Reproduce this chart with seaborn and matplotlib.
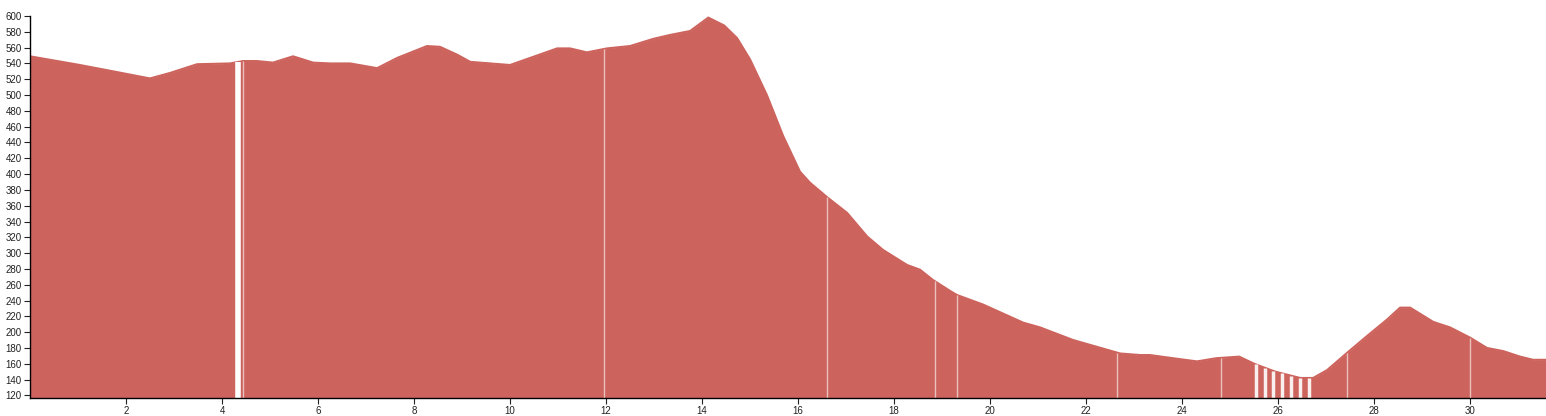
import numpy as np
import pandas as pd
import seaborn as sns
import matplotlib.pyplot as plt

# elevation profile (distance km, elevation m)
dist = [0.00, 1.04, 1.73, 2.50, 2.92, 3.48, 4.17, 4.44, 4.73, 5.06, 5.48, 5.90, 6.25,
        6.67, 7.23, 7.65, 8.27, 8.54, 8.90, 9.17, 10.00, 10.42, 10.98, 11.25, 11.60,
        12.02, 12.50, 12.98, 13.33, 13.75, 14.13, 14.46, 14.73, 15.00, 15.35, 15.69,
        16.04, 16.25, 16.60, 17.02, 17.44, 17.77, 18.27, 18.54, 18.81, 19.17, 19.31,
        19.85, 20.69, 21.04, 21.73, 22.71, 23.13, 23.33, 23.81, 24.31, 24.71, 25.19,
        25.50, 25.94, 26.46, 26.73, 27.02, 27.44, 27.85, 28.27, 28.54, 28.75, 29.23,
        29.58, 30.00, 30.35, 30.69, 31.04, 31.31, 31.58]
elev = [549, 538, 530, 521, 528, 539, 540, 543, 543, 541, 549, 541, 540,
        540, 534, 547, 562, 561, 551, 542, 538, 547, 559, 559, 554,
        559, 562, 571, 576, 581, 598, 588, 572, 545, 500, 448,
        403, 389, 371, 351, 321, 304, 285, 279, 266, 252, 247,
        235, 212, 206, 190, 173, 171, 171, 167, 163, 167, 169,
        160, 150, 142, 142, 152, 174, 195, 216, 231, 231, 213,
        206, 193, 180, 176, 169, 165, 165]

# breaks in the track (km), drawn as white cuts through the profile
gaps_wide = [4.34]
gaps_stripe = [25.54, 25.73, 25.90, 26.08, 26.27, 26.46, 26.65]
gaps_thin = [4.44, 11.96, 16.60, 18.85, 19.31, 22.65, 24.81, 27.44, 30.00]

df = pd.DataFrame({'dist': dist, 'elev': elev})

sns.set_style('ticks')
plt.rcParams['font.family'] = ['Liberation Sans', 'DejaVu Sans']

fig = plt.figure(figsize=(15.46, 4.16), dpi=100)
ax = fig.add_axes([0.0194, 0.0433, 0.9806, 0.9182])

color = '#cd635d'
ymin = 116.7
ax.fill_between(df['dist'], ymin, df['elev'], color=color, lw=0)
sns.lineplot(data=df, x='dist', y='elev', ax=ax, color=color, lw=1.5)

ax.vlines(gaps_wide, ymin, np.interp(gaps_wide, dist, elev), color='white', lw=4)
ax.vlines(gaps_stripe, ymin, np.interp(gaps_stripe, dist, elev), color='white', lw=2.5, alpha=0.9)
ax.vlines(gaps_thin, ymin, np.interp(gaps_thin, dist, elev), color='white', lw=1, alpha=0.6)

ax.set_xlim(0, 31.58)
ax.set_ylim(ymin, 600)
ax.set_xticks(range(2, 31, 2))
ax.set_yticks(range(120, 601, 20))
ax.tick_params(labelsize=7, length=4, width=0.8, colors='#222222', pad=2)
ax.set_xlabel('')
ax.set_ylabel('')
for s in ['top', 'right']:
    ax.spines[s].set_visible(False)
for s in ['left', 'bottom']:
    ax.spines[s].set_color('black')
    ax.spines[s].set_linewidth(1)

fig.savefig('out.png', dpi=100)
